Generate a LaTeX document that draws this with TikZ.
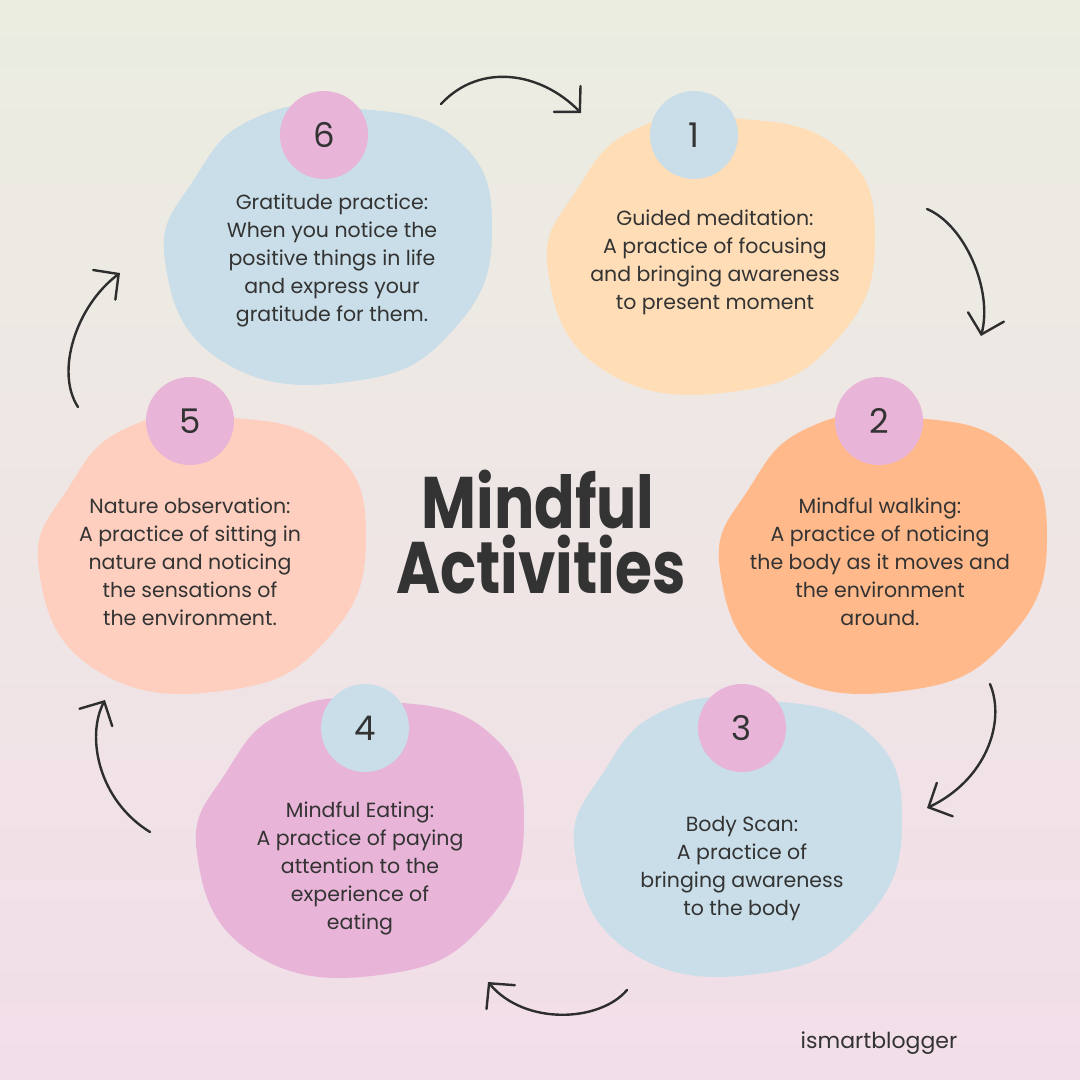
\documentclass[tikz,border=0pt]{standalone}
\usepackage{fontspec}
\setmainfont{Poppins}
\newfontfamily\titlefont[FakeStretch=0.82]{Poppins}
\usetikzlibrary{arrows.meta}

\definecolor{bgtop}{HTML}{EBEDE1}
\definecolor{bgmid}{HTML}{EAE8E3}
\definecolor{bgbot}{HTML}{F2DEE9}
\definecolor{peach}{HTML}{FEDDB7}
\definecolor{orange}{HTML}{FFB98A}
\definecolor{skyblue}{HTML}{C9DEE8}
\definecolor{pinkish}{HTML}{E8B4D8}
\definecolor{salmon}{HTML}{FECFBE}
\definecolor{ink}{HTML}{333333}

\tikzset{
  blobtext/.style={text=ink, align=center, font=\fontsize{20.5}{28}\selectfont},
  numcirc/.style={circle, minimum size=88pt, inner sep=0pt, text=ink, font=\fontsize{34}{34}\selectfont},
  titletext/.style={text=ink, anchor=base, inner sep=0pt, text height=53pt, text depth=0pt,
    font=\titlefont\fontsize{73}{73}\selectfont\bfseries},
  flowarrow/.style={draw=ink!90!black, line width=2.4pt, line cap=round,
    -{Straight Barb[length=18pt, width=37pt, line cap=round]}}
}

\begin{document}
\begin{tikzpicture}[x=1pt, y=-1pt]
\useasboundingbox (0,0) rectangle (1080,1080);
\shade[top color=bgtop, middle color=bgmid, bottom color=bgbot] (0,0) rectangle (1080,1080);

% blobs
\foreach \cx/\cy/\col in {712/253/peach, 884/552/orange, 739/835/skyblue,
                          361/836/pinkish, 203/552/salmon, 329/243/skyblue}
  \fill[\col, shift={(\cx,\cy)}] plot[smooth cycle, tension=0.8]
    coordinates {(-74,-125) (20,-135) (126,-105) (163,-15) (126,85)
                 (26,138) (-107,118) (-164,18) (-134,-65)};

% number circles
\node[numcirc, fill=skyblue] (n1) at (694,135) {1};
\node[numcirc, fill=pinkish] (n2) at (879,421) {2};
\node[numcirc, fill=pinkish] (n3) at (742,728) {3};
\node[numcirc, fill=skyblue] (n4) at (365,728) {4};
\node[numcirc, fill=pinkish] (n5) at (190,421) {5};
\node[numcirc, fill=pinkish] (n6) at (324,135) {6};

% texts
\node[blobtext] (t1) at (715,262) {Guided meditation:\\A practice of focusing\\and bringing awareness\\to present moment};
\node[blobtext] (t2) at (880,562) {Mindful walking:\\A practice of noticing\\the body as it moves and\\the environment\\around.};
\node[blobtext] (t3) at (742,869) {Body Scan:\\A practice of\\bringing awareness\\to the body};
\node[blobtext] (t4) at (360,868) {Mindful Eating:\\A practice of paying\\attention to the\\experience of\\eating};
\node[blobtext] (t5) at (190,562) {Nature observation:\\A practice of sitting in\\nature and noticing\\the sensations of\\the environment.};
\node[blobtext] (t6) at (332,260) {Gratitude practice:\\When you notice the\\positive things in life\\and express your\\gratitude for them.};

\node[titletext] (title1) at (538,528) {Mindful};
\node[titletext] (title2) at (541,593) {Activities};
\node[text=ink, font=\fontsize{22}{22}\selectfont] (brand) at (879,1043) {ismartblogger};

% arrows
\coordinate (a1s) at (441,104);  \coordinate (a1e) at (581,113);
\coordinate (a2s) at (927,209);  \coordinate (a2e) at (981,336);
\coordinate (a3s) at (990,684);  \coordinate (a3e) at (927,808);
\coordinate (a4s) at (627,990);  \coordinate (a4e) at (488,982);
\coordinate (a5s) at (150,832);  \coordinate (a5e) at (105,700);
\coordinate (a6s) at (78,407);   \coordinate (a6e) at (120,273);
\draw[flowarrow] (a1s) .. controls (480,62) and (541,72) .. (a1e);
\draw[flowarrow] (a2s) .. controls (965,225) and (993,290) .. (a2e);
\draw[flowarrow] (a3s) .. controls (1006,722) and (986,780) .. (a3e);
\draw[flowarrow] (a4s) .. controls (600,1022) and (525,1026) .. (a4e);
\draw[flowarrow] (a5s) .. controls (98,800) and (86,736) .. (a5e);
\draw[flowarrow] (a6s) .. controls (55,372) and (76,306) .. (a6e);
\end{tikzpicture}
\end{document}
